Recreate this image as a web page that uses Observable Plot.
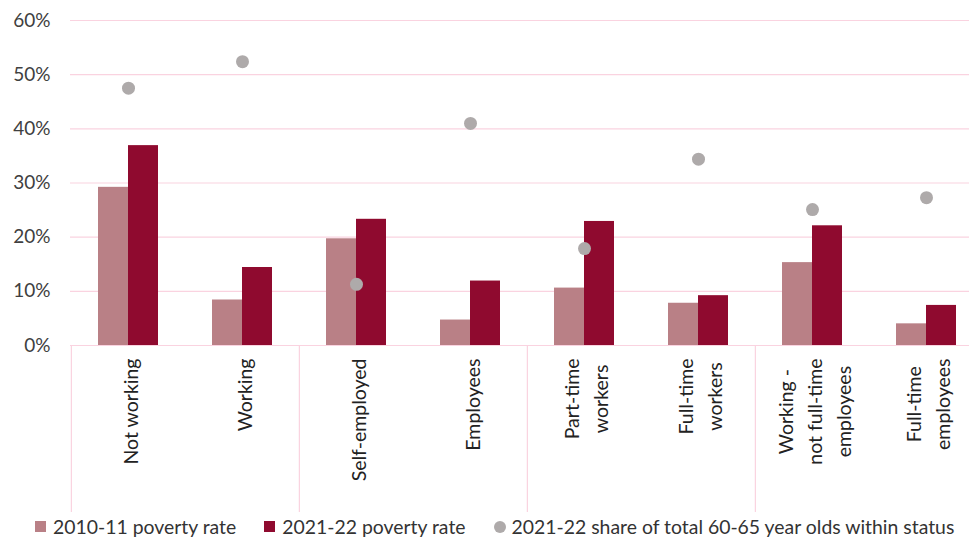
<!DOCTYPE html>
<html>
<head>
<meta charset="utf-8">
<script src="https://cdn.jsdelivr.net/npm/d3@7"></script>
<script src="https://cdn.jsdelivr.net/npm/@observablehq/plot@0.6"></script>
<style>
  html, body { margin: 0; padding: 0; background: #fff; }
  body { width: 969px; height: 541px; overflow: hidden; font-family: Lato, "Open Sans", sans-serif; }
  #chart svg { display: block; }
  #legend { display: flex; align-items: center; height: 29px; padding-left: 35px; font-size: 19.4px; color: #333; white-space: nowrap; }
  .item { display: flex; align-items: center; margin-right: 28px; }
  .sw { width: 11px; height: 11px; margin-right: 7px; }
  .dot { width: 12px; height: 12px; border-radius: 50%; margin-right: 6px; }
</style>
</head>
<body>
<div id="chart"></div>
<div id="legend"></div>
<script>
const categories = ["Not working", "Working", "Self-employed", "Employees", "Part-time\nworkers", "Full-time\nworkers", "Working -\nnot full-time\nemployees", "Full-time\nemployees"];
const rate2010 = [29.2, 8.4, 19.7, 4.7, 10.6, 7.8, 15.3, 4.0];
const rate2021 = [36.9, 14.4, 23.3, 11.9, 22.9, 9.2, 22.1, 7.4];
const share2021 = [47.5, 52.4, 11.3, 41.0, 17.9, 34.4, 25.1, 27.3];
const yTicks = [0, 10, 20, 30, 40, 50, 60];
const groupStarts = [categories[0], categories[2], categories[4], categories[6]];
const seriesNames = ["2010-11 poverty rate", "2021-22 poverty rate", "2021-22 share of total 60-65 year olds within status"];
const colors = ["#b98086", "#8f0a2f", "#aeaaaa"];

const rows = categories.map((c, i) => ({cat: c, a: rate2010[i], b: rate2021[i], s: share2021[i]}));

const W = 969, H = 512, mL = 70, mT = 20, mB = 167;
const xRange = [mL, 984];
const step = (xRange[1] - xRange[0]) / categories.length;
const frameH = H - mT - mB;

const font = "Lato, 'Open Sans', sans-serif";
const plot = Plot.plot({
  width: W, height: H,
  marginLeft: mL, marginRight: 0, marginTop: mT, marginBottom: mB,
  style: {fontFamily: font, fontSize: "19px", color: "#404040", background: "#fff"},
  x: {domain: categories, range: xRange, paddingInner: 0.475, paddingOuter: 0.2375, axis: null},
  y: {domain: [0, 60], ticks: yTicks, tickFormat: d => d + "%", tickSize: 0, tickPadding: 20, label: null},
  marks: [
    Plot.ruleY(yTicks, {stroke: "#fad3e0", strokeWidth: 1.2}),
    Plot.ruleX(groupStarts, {x: d => d, dx: -step / 2, stroke: "#fad3e0", strokeWidth: 1.2, insetTop: frameH, insetBottom: -167}),
    Plot.barY(rows, {x: "cat", y: "a", fill: colors[0], insetRight: 30, insetLeft: 0}),
    Plot.barY(rows, {x: "cat", y: "b", fill: colors[1], insetLeft: 30, insetRight: 0}),
    Plot.dot(rows, {x: "cat", y: "s", r: 6.5, fill: colors[2], stroke: "none"}),
    Plot.text(rows, {x: "cat", frameAnchor: "bottom", text: "cat", rotate: -90, textAnchor: "middle", lineAnchor: "middle", lineHeight: 1.5, fill: "#222", fontSize: 19.5, className: "xlab"})
  ]
});
document.getElementById("chart").append(plot);

// top-align each rotated label block (lines centered within block)
plot.querySelectorAll(".xlab text").forEach(t => {
  const spans = t.querySelectorAll("tspan");
  let maxW = 0;
  if (spans.length) spans.forEach(s => { maxW = Math.max(maxW, s.getComputedTextLength()); });
  else maxW = t.getComputedTextLength();
  const tr = t.getAttribute("transform") || "";
  const m = tr.match(/translate\(([-\d.]+),\s*([-\d.]+)\)/);
  if (m) {
    const x = +m[1], y = +m[2];
    t.setAttribute("transform", `translate(${x},${y + 13 + maxW / 2}) rotate(-90)`);
  }
});

const legend = document.getElementById("legend");
seriesNames.forEach((name, i) => {
  const it = document.createElement("div");
  it.className = "item";
  const sw = document.createElement("span");
  sw.className = i === 2 ? "dot" : "sw";
  sw.style.background = colors[i];
  const tx = document.createElement("span");
  tx.textContent = name;
  it.append(sw, tx);
  legend.append(it);
});
</script>
</body>
</html>
